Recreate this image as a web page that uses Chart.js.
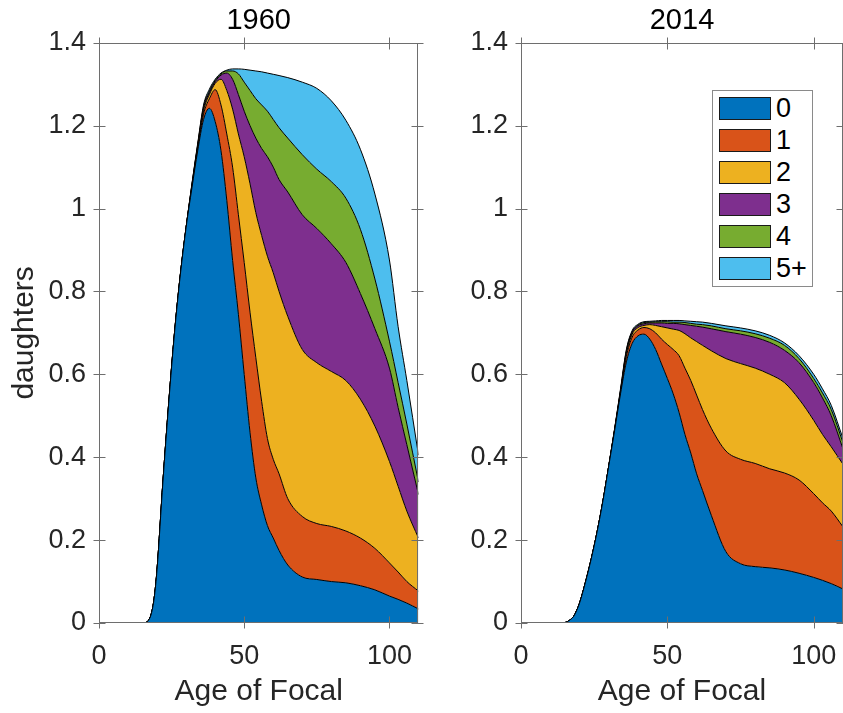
<!DOCTYPE html>
<html>
<head>
<meta charset="utf-8">
<script src="https://cdn.jsdelivr.net/npm/chart.js@4.4.0/dist/chart.umd.min.js"></script>
<style>
  html, body { margin: 0; padding: 0; background: #fff; overflow: hidden; width: 843px; height: 713px; }
  .panel { position: absolute; top: 0; }
  #left { left: 0; }
  #right { left: 430px; }
  #legend {
    position: absolute; left: 712px; top: 90px; width: 99px; height: 195px;
    border: 1px solid #8a8a8a; background: #fff;
    font-family: "Liberation Sans", Arial, sans-serif; font-size: 27px; color: #000;
  }
  .item { position: absolute; left: 6px; height: 23px; }
  .sw { position: absolute; left: 0; top: 0; width: 50px; height: 21px; border: 1px solid #1a1a1a; }
  .lab { position: absolute; left: 57px; top: -3px; line-height: 28px; white-space: nowrap; }
</style>
</head>
<body>
<div class="panel" id="left"><canvas id="c1960" width="430" height="713"></canvas></div>
<div class="panel" id="right"><canvas id="c2014" width="440" height="713"></canvas></div>
<div id="legend"></div>
<script>
// =========================
// Data
// Each array is the stacked (cumulative) level of the daughters that have
// at most k children: level_0 <= level_1 <= ... <= level_5+
// =========================
const ages = [0, 5, 10, 14, 15, 16, 17, 18, 19, 20, 22, 24, 26, 28, 30, 32, 34, 36, 38, 40,
  42, 44, 46, 48, 50, 52, 54, 56, 58, 60, 62, 65, 70, 75, 80, 85, 90, 95, 100, 103, 106, 110];

const groups = ["0", "1", "2", "3", "4", "5+"];
const xTicks = [0, 50, 100];
const yTicks = [0, 0.2, 0.4, 0.6, 0.8, 1, 1.2, 1.4];
const yTickLabels = ["0", "0.2", "0.4", "0.6", "0.8", "1", "1.2", "1.4"];

// 1960
const y1960_0 = [0, 0, 0, 0, 0, 0.001, 0.006, 0.022, 0.06, 0.13, 0.34, 0.53, 0.70, 0.84, 0.955, 1.05, 1.14, 1.215, 1.242, 1.21,
  1.14, 1.02, 0.875, 0.745, 0.60, 0.46, 0.35, 0.285, 0.235, 0.205, 0.175, 0.14, 0.111, 0.105, 0.10, 0.097, 0.09, 0.08, 0.065, 0.057, 0.048, 0.034];
const y1960_1 = [0, 0, 0, 0, 0, 0.001, 0.006, 0.022, 0.06, 0.13, 0.34, 0.53, 0.70, 0.84, 0.955, 1.052, 1.145, 1.228, 1.265, 1.287,
  1.25, 1.18, 1.10, 0.985, 0.87, 0.75, 0.64, 0.535, 0.445, 0.395, 0.36, 0.30, 0.257, 0.24, 0.233, 0.222, 0.205, 0.18, 0.145, 0.123, 0.10, 0.077];
const y1960_2 = [0, 0, 0, 0, 0, 0.001, 0.006, 0.022, 0.06, 0.13, 0.34, 0.53, 0.70, 0.84, 0.955, 1.055, 1.15, 1.236, 1.275, 1.302,
  1.312, 1.285, 1.24, 1.18, 1.125, 1.06, 0.99, 0.935, 0.885, 0.845, 0.80, 0.74, 0.66, 0.628, 0.607, 0.585, 0.54, 0.475, 0.39, 0.33, 0.27, 0.205];
const y1960_3 = [0, 0, 0, 0, 0, 0.001, 0.006, 0.022, 0.06, 0.13, 0.34, 0.53, 0.70, 0.84, 0.955, 1.057, 1.153, 1.242, 1.28, 1.306,
  1.322, 1.327, 1.312, 1.275, 1.235, 1.20, 1.17, 1.145, 1.125, 1.10, 1.07, 1.04, 0.985, 0.952, 0.915, 0.87, 0.795, 0.71, 0.615, 0.52, 0.43, 0.31];
const y1960_4 = [0, 0, 0, 0, 0, 0.001, 0.006, 0.022, 0.06, 0.13, 0.34, 0.53, 0.70, 0.84, 0.955, 1.058, 1.155, 1.246, 1.283, 1.309,
  1.325, 1.332, 1.332, 1.325, 1.305, 1.285, 1.265, 1.25, 1.235, 1.215, 1.195, 1.17, 1.13, 1.095, 1.065, 1.025, 0.95, 0.83, 0.68, 0.58, 0.48, 0.34];
const y1960_5 = [0, 0, 0, 0, 0, 0.001, 0.006, 0.022, 0.06, 0.13, 0.34, 0.53, 0.70, 0.84, 0.955, 1.06, 1.158, 1.25, 1.288, 1.312,
  1.327, 1.334, 1.337, 1.337, 1.336, 1.334, 1.332, 1.33, 1.327, 1.324, 1.321, 1.316, 1.305, 1.29, 1.26, 1.213, 1.143, 1.035, 0.876, 0.715, 0.585, 0.405];

// 2014
const y2014_0 = [0, 0, 0, 0, 0.001, 0.004, 0.009, 0.016, 0.03, 0.048, 0.098, 0.155, 0.22, 0.295, 0.38, 0.465, 0.553, 0.63, 0.675, 0.693,
  0.697, 0.685, 0.66, 0.625, 0.59, 0.553, 0.508, 0.455, 0.41, 0.36, 0.32, 0.26, 0.172, 0.143, 0.136, 0.133, 0.128, 0.12, 0.11, 0.103, 0.095, 0.082];
const y2014_1 = [0, 0, 0, 0, 0.001, 0.004, 0.009, 0.016, 0.03, 0.048, 0.098, 0.155, 0.22, 0.295, 0.38, 0.466, 0.556, 0.643, 0.69, 0.707,
  0.713, 0.71, 0.70, 0.685, 0.672, 0.66, 0.645, 0.615, 0.585, 0.55, 0.515, 0.47, 0.415, 0.395, 0.385, 0.372, 0.362, 0.345, 0.312, 0.29, 0.27, 0.232];
const y2014_2 = [0, 0, 0, 0, 0.001, 0.004, 0.009, 0.016, 0.03, 0.048, 0.098, 0.155, 0.22, 0.295, 0.38, 0.467, 0.558, 0.65, 0.697, 0.713,
  0.718, 0.72, 0.718, 0.715, 0.712, 0.709, 0.706, 0.698, 0.688, 0.679, 0.67, 0.657, 0.638, 0.626, 0.615, 0.60, 0.58, 0.54, 0.489, 0.455, 0.425, 0.383];
const y2014_3 = [0, 0, 0, 0, 0.001, 0.004, 0.009, 0.016, 0.03, 0.048, 0.098, 0.155, 0.22, 0.295, 0.38, 0.468, 0.56, 0.654, 0.701, 0.717,
  0.722, 0.724, 0.724, 0.724, 0.723, 0.723, 0.722, 0.72, 0.718, 0.716, 0.714, 0.71, 0.703, 0.697, 0.689, 0.677, 0.658, 0.628, 0.58, 0.543, 0.50, 0.42];
const y2014_4 = [0, 0, 0, 0, 0.001, 0.004, 0.009, 0.016, 0.03, 0.048, 0.098, 0.155, 0.22, 0.295, 0.38, 0.469, 0.562, 0.657, 0.703, 0.719,
  0.725, 0.726, 0.727, 0.727, 0.727, 0.726, 0.726, 0.725, 0.723, 0.721, 0.72, 0.717, 0.71, 0.705, 0.698, 0.687, 0.67, 0.638, 0.59, 0.555, 0.515, 0.435];
const y2014_5 = [0, 0, 0, 0, 0.001, 0.004, 0.009, 0.016, 0.03, 0.048, 0.098, 0.155, 0.22, 0.295, 0.38, 0.47, 0.565, 0.66, 0.706, 0.721,
  0.727, 0.728, 0.729, 0.73, 0.73, 0.73, 0.73, 0.729, 0.728, 0.727, 0.726, 0.723, 0.717, 0.712, 0.705, 0.694, 0.676, 0.645, 0.60, 0.565, 0.525, 0.445];

// =========================
// Styles
// =========================
const fillColors = ["#0072BD", "#D95319", "#EDB120", "#7E2F8E", "#77AC30", "#4DBEEE"];
const FONT = "'Liberation Sans', Arial, Helvetica, sans-serif";
const TEXT = "#262626";
const AXIS = "#6e6e6e";

// Box around the axes plus MATLAB style ticks on all four sides
const boxAxes = {
  id: "boxAxes",
  afterDraw(chart) {
    const { ctx, chartArea: a, scales: { x, y } } = chart;
    const L = Math.round(a.left) + 0.5, R = Math.round(a.right) - 0.5;
    const T = Math.round(a.top) + 0.5, B = Math.round(a.bottom) - 0.5;
    ctx.save();
    ctx.strokeStyle = AXIS;
    ctx.lineWidth = 1;
    ctx.beginPath();
    ctx.rect(L, T, R - L, B - T);
    x.ticks.forEach(t => {
      const px = Math.round(x.getPixelForValue(t.value)) + 0.5;
      ctx.moveTo(px, B - 6); ctx.lineTo(px, B + 6);
      ctx.moveTo(px, T - 6); ctx.lineTo(px, T + 6);
    });
    y.ticks.forEach(t => {
      const py = Math.round(y.getPixelForValue(t.value)) + 0.5;
      ctx.moveTo(L - 6, py); ctx.lineTo(L + 6, py);
      ctx.moveTo(R - 6, py); ctx.lineTo(R + 6, py);
    });
    ctx.stroke();
    ctx.restore();
  }
};

function makeDatasets(levels) {
  return levels.map((lv, i) => ({
    label: groups[i],
    data: ages.map((a, j) => ({ x: a, y: lv[j] })),
    backgroundColor: fillColors[i],
    borderColor: "#000",
    borderWidth: 1,
    pointRadius: 0,
    cubicInterpolationMode: "monotone",
    fill: i === 0 ? "origin" : "-1"
  }));
}

function makeChart(id, title, levels, opts) {
  new Chart(document.getElementById(id), {
    type: "line",
    data: { datasets: makeDatasets(levels) },
    plugins: [boxAxes],
    options: {
      responsive: false,
      animation: false,
      events: [],
      layout: { padding: { left: 0, right: opts.padRight, top: 0, bottom: 0 } },
      plugins: {
        legend: { display: false },
        tooltip: { enabled: false },
        filler: { propagate: false },
        title: {
          display: true,
          text: title,
          fullSize: false,
          color: "#000",
          font: { family: FONT, size: 29, weight: "normal" },
          padding: { top: 4, bottom: 4 }
        }
      },
      scales: {
        x: {
          type: "linear",
          min: 0, max: 110,
          grid: { display: false, drawTicks: false },
          border: { display: false },
          afterBuildTicks: s => { s.ticks = xTicks.map(v => ({ value: v })); },
          afterFit: s => { s.height = 90; },
          ticks: { color: TEXT, font: { family: FONT, size: 27 }, padding: 17, callback: v => String(v) },
          title: {
            display: true, text: "Age of Focal", color: TEXT,
            font: { family: FONT, size: 30 }, padding: { top: 0, bottom: 3 }
          }
        },
        y: {
          min: 0, max: 1.4,
          grid: { display: false, drawTicks: false },
          border: { display: false },
          afterBuildTicks: s => { s.ticks = yTicks.map(v => ({ value: v })); },
          afterFit: s => { s.width = opts.yWidth; },
          ticks: {
            color: TEXT, font: { family: FONT, size: 27 }, padding: 13,
            callback: (v, i) => yTickLabels[i]
          },
          title: {
            display: opts.yTitle, text: "daughters", color: TEXT,
            font: { family: FONT, size: 30 }, padding: { top: 7, bottom: 0 }
          }
        }
      }
    }
  });
}

makeChart("c1960", "1960", [y1960_0, y1960_1, y1960_2, y1960_3, y1960_4, y1960_5],
  { yWidth: 99, padRight: 10, yTitle: true });
makeChart("c2014", "2014", [y2014_0, y2014_1, y2014_2, y2014_3, y2014_4, y2014_5],
  { yWidth: 91, padRight: 27, yTitle: false });

// Legend inside the 2014 axes
const legend = document.getElementById("legend");
groups.forEach((g, i) => {
  const item = document.createElement("div");
  item.className = "item";
  item.style.top = (6 + i * 32) + "px";
  item.innerHTML = `<div class="sw" style="background:${fillColors[i]}"></div><div class="lab">${g}</div>`;
  legend.appendChild(item);
});
</script>
</body>
</html>
